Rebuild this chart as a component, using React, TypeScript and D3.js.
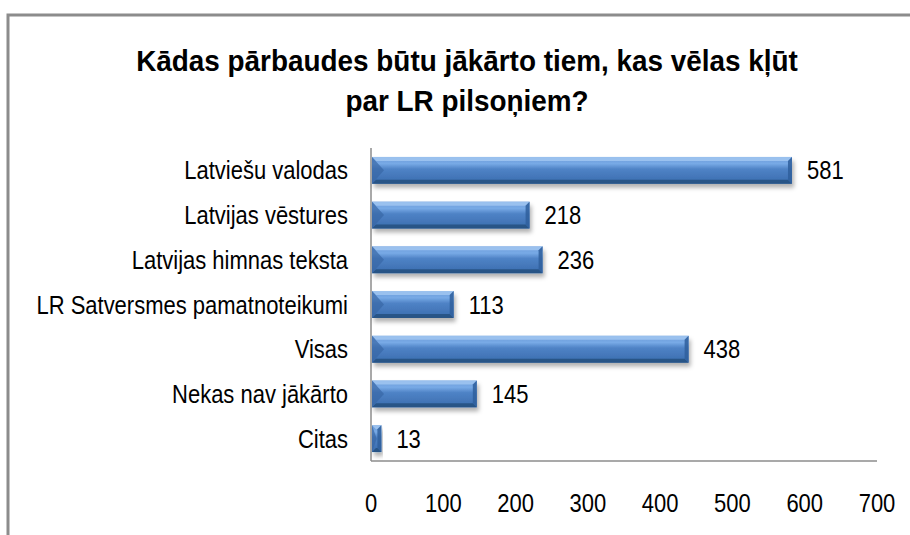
import { useRef, useEffect } from 'react'
import * as d3 from 'd3'

const categories = [
  'Latviešu valodas',
  'Latvijas vēstures',
  'Latvijas himnas teksta',
  'LR Satversmes pamatnoteikumi',
  'Visas',
  'Nekas nav jākārto',
  'Citas',
]
const values = [581, 218, 236, 113, 438, 145, 13]
const xTicks = [0, 100, 200, 300, 400, 500, 600, 700]
const titleLines = ['Kādas pārbaudes būtu jākārto tiem, kas vēlas kļūt', 'par LR pilsoņiem?']

const FONT = '"Liberation Sans", Arial, sans-serif'
// the original font is a condensed Arial, squeeze horizontally
const SQ = 0.88
const SQ_TITLE = 0.93

export default function App() {
  const svgRef = useRef<SVGSVGElement>(null)
  const width = 910
  const height = 535

  useEffect(() => {
    if (!svgRef.current) return
    const svg = d3.select(svgRef.current)
    svg.selectAll('*').remove()

    const margin = { top: 148, right: 33, bottom: 74, left: 371 }
    const innerWidth = width - margin.left - margin.right
    const innerHeight = height - margin.top - margin.bottom

    const defs = svg.append('defs')
    const grad = defs.append('linearGradient')
      .attr('id', 'barGrad')
      .attr('x1', 0).attr('y1', 0).attr('x2', 0).attr('y2', 1)
    grad.append('stop').attr('offset', '0%').attr('stop-color', '#6a9ad8')
    grad.append('stop').attr('offset', '25%').attr('stop-color', '#78aae6')
    grad.append('stop').attr('offset', '45%').attr('stop-color', '#4f83c6')
    grad.append('stop').attr('offset', '100%').attr('stop-color', '#3a6cae')

    const shadow = defs.append('filter')
      .attr('id', 'barShadow')
      .attr('x', '-10%').attr('y', '-20%').attr('width', '120%').attr('height', '160%')
    shadow.append('feDropShadow')
      .attr('dx', 2).attr('dy', 4).attr('stdDeviation', 2)
      .attr('flood-color', '#000').attr('flood-opacity', 0.3)

    // Outer frame
    svg.append('rect')
      .attr('x', 8).attr('y', 15)
      .attr('width', width).attr('height', height)
      .attr('fill', 'none')
      .attr('stroke', '#8c8c8c')
      .attr('stroke-width', 3)

    // Title
    svg.selectAll('text.title')
      .data(titleLines)
      .enter()
      .append('text')
      .attr('class', 'title')
      .attr('transform', (_, i) => `translate(467,${71 + i * 40}) scale(${SQ_TITLE},1)`)
      .attr('text-anchor', 'middle')
      .attr('font-family', FONT)
      .attr('font-weight', 'bold')
      .attr('font-size', 30)
      .attr('fill', '#000')
      .text((d) => d)

    const g = svg.append('g')
      .attr('transform', `translate(${margin.left},${margin.top})`)

    const xScale = d3.scaleLinear().domain([0, 700]).range([0, innerWidth])
    const yScale = d3.scaleBand<string>()
      .domain(categories)
      .range([0, innerHeight])
      .paddingInner(0.4)
      .paddingOuter(0.2)

    // Axes lines
    g.append('line')
      .attr('x1', 0).attr('x2', 0).attr('y1', 0).attr('y2', innerHeight)
      .attr('stroke', '#8c8c8c').attr('stroke-width', 1.5)
    g.append('line')
      .attr('x1', 0).attr('x2', innerWidth).attr('y1', innerHeight).attr('y2', innerHeight)
      .attr('stroke', '#8c8c8c').attr('stroke-width', 1.5)

    // Bars
    const data = categories.map((c, i) => ({ c, v: values[i] }))
    const bw = 4
    const bars = g.selectAll('g.bar')
      .data(data)
      .enter()
      .append('g')
      .attr('class', 'bar')
      .attr('transform', (d) => `translate(1,${yScale(d.c)})`)

    const bh = yScale.bandwidth()
    bars.append('rect')
      .attr('width', (d) => xScale(d.v))
      .attr('height', bh)
      .attr('fill', 'url(#barGrad)')
      .attr('filter', 'url(#barShadow)')
    // top bevel
    bars.append('polygon')
      .attr('points', (d) => {
        const w = xScale(d.v)
        const b = Math.min(bw, w / 2)
        return `0,0 ${w},0 ${w - b},${b} ${b},${b}`
      })
      .attr('fill', '#a5c9f2').attr('opacity', 0.8)
    // bottom bevel
    bars.append('polygon')
      .attr('points', (d) => {
        const w = xScale(d.v)
        const b = Math.min(bw, w / 2)
        return `0,${bh} ${w},${bh} ${w - b},${bh - b} ${b},${bh - b}`
      })
      .attr('fill', '#24507f').attr('opacity', 0.85)
    // left bevel
    bars.append('polygon')
      .attr('points', (d) => {
        const w = xScale(d.v)
        const b = Math.min(bw * 3, w / 2)
        return `0,0 ${b},${bh / 2} 0,${bh}`
      })
      .attr('fill', '#3767a5').attr('opacity', 0.7)
    // right bevel
    bars.append('polygon')
      .attr('points', (d) => {
        const w = xScale(d.v)
        const b = Math.min(bw, w / 2)
        return `${w},0 ${w},${bh} ${w - b},${bh - b} ${w - b},${b}`
      })
      .attr('fill', '#2f5f9c').attr('opacity', 0.85)

    // Value labels
    g.selectAll('text.val')
      .data(data)
      .enter()
      .append('text')
      .attr('class', 'val')
      .attr('transform', (d) => `translate(${xScale(d.v) + 16},${(yScale(d.c) ?? 0) + bh / 2}) scale(${SQ},1)`)
      .attr('dy', '0.36em')
      .attr('font-family', FONT)
      .attr('font-size', 25)
      .attr('fill', '#000')
      .text((d) => d.v)

    // Category labels
    g.selectAll('text.cat')
      .data(categories)
      .enter()
      .append('text')
      .attr('class', 'cat')
      .attr('transform', (d) => `translate(-23,${(yScale(d) ?? 0) + bh / 2}) scale(${SQ},1)`)
      .attr('dy', '0.36em')
      .attr('text-anchor', 'end')
      .attr('font-family', FONT)
      .attr('font-size', 25)
      .attr('fill', '#000')
      .text((d) => d)

    // X tick labels
    g.selectAll('text.tick')
      .data(xTicks)
      .enter()
      .append('text')
      .attr('class', 'tick')
      .attr('transform', (d) => `translate(${xScale(d)},${innerHeight + 42}) scale(${SQ},1)`)
      .attr('dy', '0.36em')
      .attr('text-anchor', 'middle')
      .attr('font-family', FONT)
      .attr('font-size', 25)
      .attr('fill', '#000')
      .text((d) => d)
  }, [])

  return (
    <div style={{ position: 'absolute', left: 0, top: 0 }}>
      <svg ref={svgRef} width={width} height={height} style={{ display: 'block', background: '#fff' }} />
    </div>
  )
}
